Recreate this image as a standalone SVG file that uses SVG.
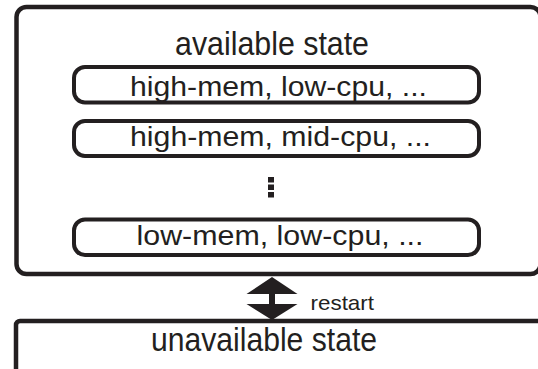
<svg xmlns="http://www.w3.org/2000/svg" width="538" height="369" viewBox="0 0 538 369">
<style>
.box{fill:#fff;stroke:#231f20;stroke-width:4.5}
.pill{fill:#fff;stroke:#231f20;stroke-width:4}
.t{font-family:"Liberation Sans",Arial,sans-serif;fill:#231f20;text-anchor:middle}
.big{font-size:34px}
.mid{font-size:27px}
</style>
<rect width="538" height="369" fill="#fff"/>
<g id="available">
<rect class="box" x="16.5" y="7" width="524" height="267" rx="10"/>
<text class="t big" x="272" y="55" textLength="194" lengthAdjust="spacingAndGlyphs">available state</text>
</g>
<g id="state1">
<rect class="pill" x="74" y="67" width="405" height="35.5" rx="11"/>
<text class="t mid" x="278.5" y="96" textLength="297" lengthAdjust="spacingAndGlyphs">high-mem, low-cpu, ...</text>
</g>
<g id="state2">
<rect class="pill" x="74" y="121" width="405" height="35" rx="11"/>
<text class="t mid" x="280.5" y="146" textLength="301" lengthAdjust="spacingAndGlyphs">high-mem, mid-cpu, ...</text>
</g>
<g id="ellipsis">
<rect x="268" y="177" width="6" height="5.5" fill="#231f20"/>
<rect x="268" y="184.5" width="6" height="5.5" fill="#231f20"/>
<rect x="268" y="192" width="6" height="5.5" fill="#231f20"/>
</g>
<g id="state3">
<rect class="pill" x="74" y="219.5" width="405" height="35.5" rx="11"/>
<text class="t mid" x="280" y="244.5" textLength="287" lengthAdjust="spacingAndGlyphs">low-mem, low-cpu, ...</text>
</g>
<g id="unavailable">
<rect class="box" x="16" y="321" width="530" height="52" rx="4"/>
<text class="t big" x="264" y="351" textLength="226" lengthAdjust="spacingAndGlyphs">unavailable state</text>
</g>
<g id="connectors">
<path d="M272 277 L297.5 294 L275 294 L275 304 L297.5 304 L272 320 L246.5 304 L269 304 L269 294 L246.5 294 Z" fill="#231f20"/>
<text class="t" style="font-size:21px;text-anchor:start" x="310.5" y="310" textLength="63.5" lengthAdjust="spacingAndGlyphs">restart</text>
</g>
</svg>
